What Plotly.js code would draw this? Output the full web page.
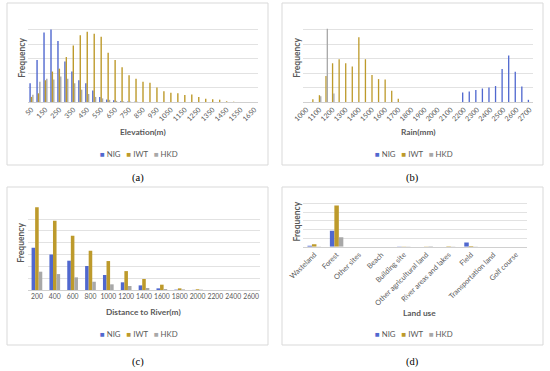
<!DOCTYPE html>
<html>
<head>
<meta charset="utf-8">
<script src="https://cdn.plot.ly/plotly-3.0.1.min.js"></script>
<style>html,body{margin:0;padding:0;background:#fff;}#chart{width:550px;height:371px;}</style>
</head>
<body>
<div id="chart"></div>
<script>
// ---------- DATA ----------
const seriesNames = ["NIG", "IWT", "HKD"];

const elevCats = ["50","100","150","200","250","300","350","400","450","500","550","600","650","700","750","800","850","900","950","1000","1050","1100","1150","1200","1250","1300","1350","1400","1450","1500","1550","1600","1650"];
const elevTicks = ["50","150","250","350","450","550","650","750","850","950","1050","1150","1250","1350","1450","1550","1650"];
const elevNIG = [1.3,2.9,4.8,5.0,4.2,2.8,2.1,1.5,1.3,0.8,0.35,0.18,0.12,0.06,0.03,0.02,0,0,0,0,0,0,0,0,0,0,0,0,0,0,0,0,0];
const elevIWT = [0.35,0.6,1.5,2.1,2.3,3.1,3.9,4.6,4.85,4.7,4.5,3.4,2.9,2.4,1.85,1.6,1.4,1.33,1.0,0.74,0.63,0.6,0.49,0.51,0.35,0.23,0.19,0.16,0.05,0.02,0,0,0];
const elevHKD = [0.5,1.4,1.6,1.55,1.75,1.6,1.3,0.85,0.55,0.35,0.25,0.15,0.08,0.05,0.03,0.02,0,0,0,0,0,0,0,0,0,0,0,0,0,0,0,0,0];

const rainCats = ["1000","1050","1100","1150","1200","1250","1300","1350","1400","1450","1500","1550","1600","1650","1700","1750","1800","1850","1900","1950","2000","2050","2100","2150","2200","2250","2300","2350","2400","2450","2500","2550","2600","2650","2700"];
const rainTicks = ["1000","1100","1200","1300","1400","1500","1600","1700","1800","1900","2000","2100","2200","2300","2400","2500","2600","2700"];
const rainNIG = [0,0,0,0,0,0,0,0,0,0,0,0,0,0,0,0,0,0,0,0,0,0,0,0,0.65,0.72,0.83,0.93,1.0,1.1,2.27,3.2,2.08,1.07,0.15];
const rainIWT = [0,0.19,0.47,1.8,2.67,2.95,2.67,2.44,4.47,2.95,1.86,1.58,1.56,0.77,0.23,0,0,0,0,0,0,0,0,0,0,0,0,0,0,0,0,0,0,0,0];
const rainHKD = [0,0,0.4,5.05,0.58,0,0,0,0,0,0,0,0,0,0,0,0,0,0,0,0,0,0,0,0,0,0,0,0,0,0,0,0,0,0];

const distCats = ["200","400","600","800","1000","1200","1400","1600","1800","2000","2200","2400","2600"];
const distNIG = [3.58,3.0,2.48,2.03,1.27,0.65,0.39,0.14,0.03,0.01,0,0,0];
const distIWT = [7.04,5.86,4.59,3.32,2.45,1.6,0.93,0.45,0.14,0.06,0,0,0];
const distHKD = [1.55,1.35,1.07,0.7,0.48,0.34,0.17,0.08,0.05,0.03,0,0,0];

const landCats = ["Wasteland","Forest","Other sites","Beach","Building site","Other agricultural land","River areas and lakes","Field","Transportation land","Golf course"];
const landNIG = [0.12,1.86,0,0,0.01,0,0,0.5,0,0];
const landIWT = [0.27,4.77,0,0,0.03,0.02,0.04,0.08,0,0];
const landHKD = [0.02,1.1,0,0,0.03,0.04,0.01,0.02,0,0];

// ---------- STYLE ----------
const colors = ["#5068cf", "#bd9a2b", "#a8a8a8"];
const W = 550, H = 371;
const FONT = "Lato, 'Open Sans', sans-serif";
const TXT = "#595959";
const px = (x) => x / W;
const py = (y) => 1 - y / H;

const panels = [
  {cats: elevCats, vals: [elevNIG, elevIWT, elevHKD], ticks: elevTicks, angle: -45, ymax: 6, ax: "", dom: [[28,258],[15,102]], fs: 7},
  {cats: rainCats, vals: [rainNIG, rainIWT, rainHKD], ticks: rainTicks, angle: -45, ymax: 6, ax: "2", dom: [[303,533],[15,102]], fs: 7},
  {cats: distCats, vals: [distNIG, distIWT, distHKD], ticks: distCats, angle: 0, ymax: 7, ax: "3", dom: [[28,260],[207.3,290]], fs: 6.8},
  {cats: landCats, vals: [landNIG, landIWT, landHKD], ticks: landCats, angle: -45, ymax: 6, ax: "4", dom: [[303,527],[195,246.7]], fs: 7.3}
];

const traces = [];
const layout = {
  width: W, height: H,
  margin: {l: 0, r: 0, t: 0, b: 0},
  paper_bgcolor: "#ffffff", plot_bgcolor: "rgba(0,0,0,0)",
  showlegend: false,
  barmode: "group", bargap: 0.4, bargroupgap: 0,
  font: {family: FONT, color: TXT},
  annotations: [], shapes: []
};

panels.forEach((p) => {
  p.vals.forEach((v, i) => {
    traces.push({
      type: "bar", x: p.cats, y: v, name: seriesNames[i],
      marker: {color: colors[i]},
      xaxis: "x" + p.ax, yaxis: "y" + p.ax,
      hoverinfo: "skip"
    });
  });
  layout["xaxis" + p.ax] = {
    type: "category",
    domain: [px(p.dom[0][0]), px(p.dom[0][1])],
    anchor: "y" + p.ax,
    tickmode: "array", tickvals: p.ticks, ticktext: p.ticks,
    tickangle: p.angle,
    tickfont: {family: FONT, size: p.fs, color: TXT},
    showline: true, linecolor: "#d0d0d0", linewidth: 1,
    ticks: "", showgrid: false, zeroline: false,
    fixedrange: true
  };
  layout["yaxis" + p.ax] = {
    domain: [py(p.dom[1][1]), py(p.dom[1][0])],
    anchor: "x" + p.ax,
    range: [0, p.ymax], dtick: 1,
    showticklabels: false, ticks: "",
    showgrid: true, gridcolor: "#e2e2e2", gridwidth: 1,
    zeroline: false, showline: false, fixedrange: true
  };
});

// panel frames
[[7,3,268,165],[282,3,543,165],[7,187,268,345],[282,187,543,345]].forEach(r => {
  layout.shapes.push({type: "rect", xref: "paper", yref: "paper",
    x0: px(r[0]), x1: px(r[2]), y0: py(r[3]), y1: py(r[1]),
    line: {color: "#d9d9d9", width: 1}, fillcolor: "rgba(0,0,0,0)"});
});

function ann(text, x, y, opts) {
  layout.annotations.push(Object.assign({
    text: text, xref: "paper", yref: "paper", x: px(x), y: py(y),
    xanchor: "center", yanchor: "middle", showarrow: false,
    font: {family: FONT, size: 7.5, color: TXT}
  }, opts || {}));
}

const titleFont = {family: FONT, size: 8.3, color: TXT};
// y titles
[[21.7,58],[296.7,58],[20.7,243],[296.7,221.7]].forEach(c => {
  ann("<b>Frequency</b>", c[0], c[1], {textangle: -90, font: {family: FONT, size: 8.5, color: TXT}});
});
// x titles
ann("<b>Elevation(m)</b>", 142.7, 131.7, {font: titleFont});
ann("<b>Rain(mm)</b>", 418, 131.7, {font: titleFont});
ann("<b>Distance to River(m)</b>", 143, 311.7, {font: titleFont});
ann("<b>Land use</b>", 419, 313.3, {font: titleFont});

// legends
const legendText = seriesNames.map((n, i) =>
  "<span style='color:" + colors[i] + "'>■</span> " + n).join("   ");
[[138.5,154],[414,154],[138.5,334],[414,334]].forEach(c => ann(legendText, c[0], c[1], {font: {family: FONT, size: 7.8, color: TXT}}));

// panel labels
[["(a)",137.5,178],["(b)",412.5,178],["(c)",137.5,362],["(d)",412.5,362]].forEach(l => {
  ann(l[0], l[1], l[2], {font: {family: "'Liberation Serif', 'DejaVu Serif', serif", size: 10.5, color: "#000"}});
});

Plotly.newPlot("chart", traces, layout, {staticPlot: true, displayModeBar: false});
</script>
</body>
</html>
